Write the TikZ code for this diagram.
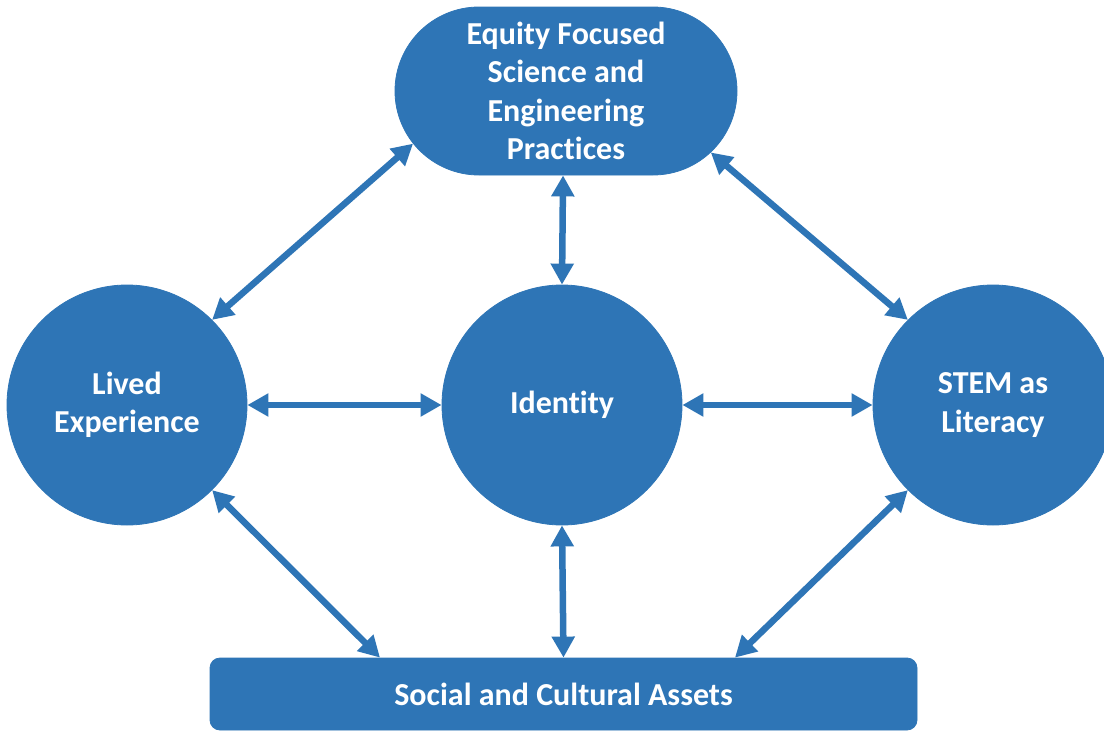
\documentclass[tikz,border=0pt]{standalone}
\usepackage{fontspec}
\setmainfont[Ligatures=NoCommon]{Carlito}
\usetikzlibrary{arrows.meta,shapes.misc}
\definecolor{ofblue}{RGB}{46,117,182}
\tikzset{
  shapefill/.style={fill=ofblue, draw=ofblue, line width=0.8pt, text=white,
    font=\bfseries\fontsize{32}{38.5}\selectfont, align=center, inner sep=0pt},
  bubble/.style={shapefill, circle, minimum size=240pt},
  link/.style={draw=ofblue, line width=6.5pt,
    {Triangle[length=21pt,width=22pt]}-{Triangle[length=21pt,width=22pt]}}
}
\begin{document}
\begin{tikzpicture}[x=1pt,y=-1pt]
\clip (0,0) rectangle (1104,731);
\fill[white] (0,0) rectangle (1104,731);
\node[shapefill, rounded rectangle, minimum width=342pt, minimum height=168pt] (equity) at (566,91)
  {Equity Focused\\Science and\\Engineering\\Practices};
\node[bubble] (lived) at (127,405) {Lived\\Experience};
\node[bubble] (identity) at (562,405) {Identity};
\node[bubble] (stem) at (993,405) {STEM as\\Literacy};
\node[shapefill, rectangle, rounded corners=10pt, minimum width=707pt, minimum height=72pt] (assets) at (563.5,694)
  {Social and Cultural Assets};
\draw[link] (lived.45) -- (equity.199);
\draw[link] (equity.337.4) -- (stem.135.3);
\draw[link] (equity.268) -- (identity.north);
\draw[link] (lived.east) -- (identity.west);
\draw[link] (identity.east) -- (stem.west);
\draw[link] (lived.315) -- ([xshift=-183.5pt]assets.north);
\draw[link] (identity.south) -- (assets.north);
\draw[link] (stem.225.7) -- ([xshift=171.5pt]assets.north);
\end{tikzpicture}
\end{document}
